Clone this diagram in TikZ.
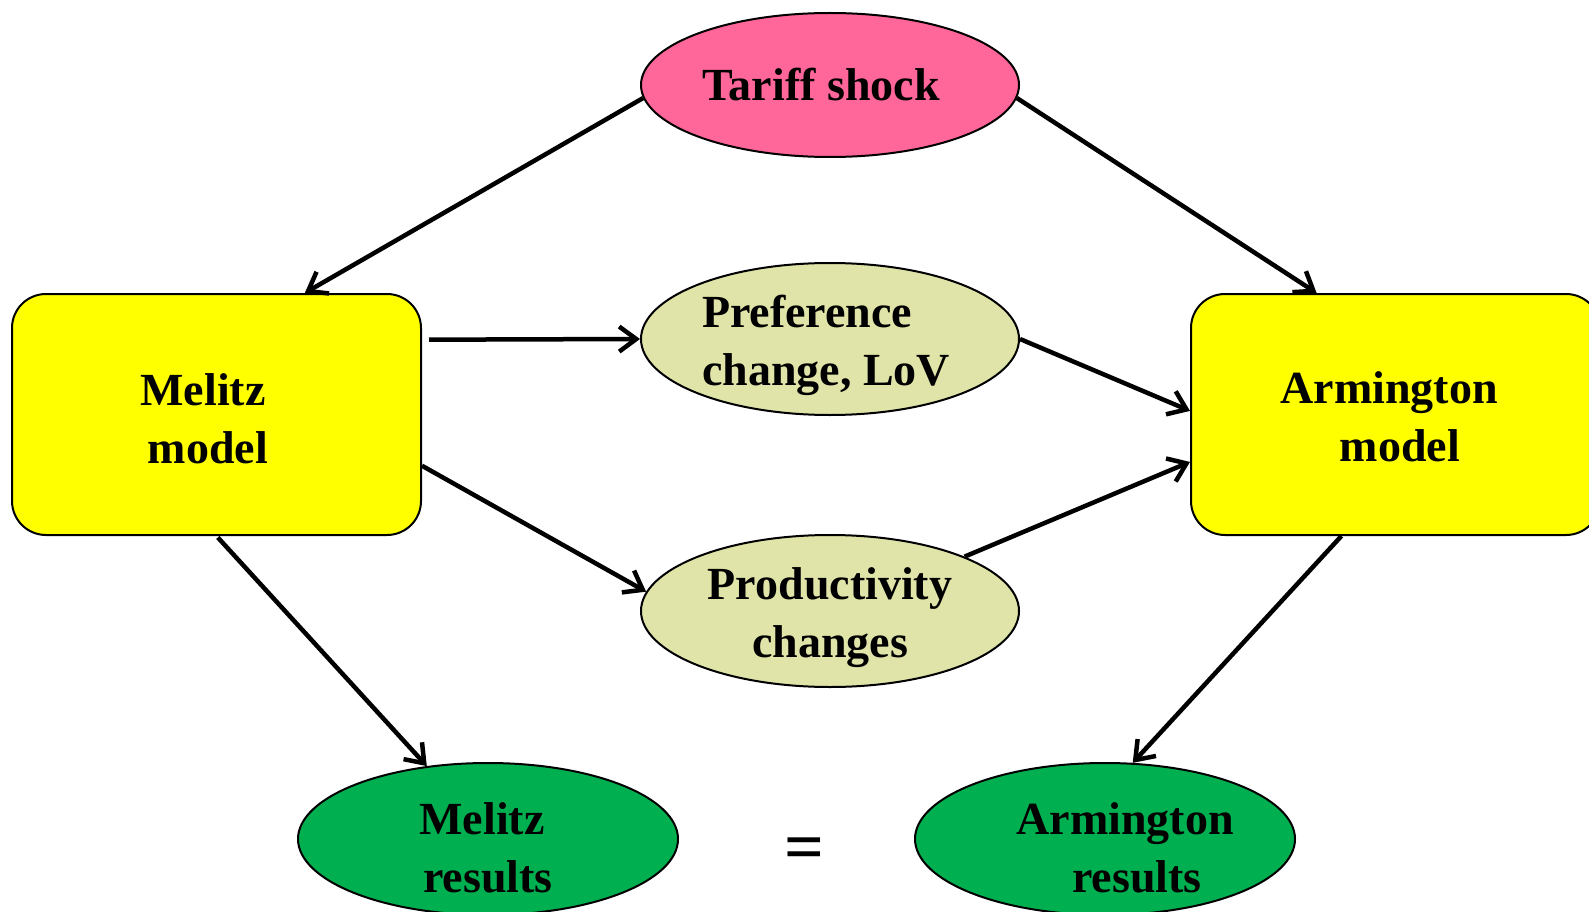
\documentclass[tikz,border=0pt]{standalone}
\usepackage{fontspec}
\setmainfont{Liberation Serif}
\usetikzlibrary{arrows.meta,shapes.geometric}
\definecolor{shockpink}{RGB}{255,102,153}
\definecolor{modelyellow}{RGB}{255,255,0}
\definecolor{channel}{RGB}{225,228,168}
\definecolor{resultgreen}{RGB}{0,176,80}
\begin{document}
\begin{tikzpicture}[x=1pt,y=-1pt,
  modelbox/.style={draw=black,line width=2pt,fill=modelyellow,rounded corners=34pt,
    minimum width=409pt,minimum height=241pt,inner sep=0pt},
  oval/.style={ellipse,draw=black,line width=2pt,inner sep=0pt,
    minimum width=378pt,minimum height=152pt},
  lbl/.style={font=\fontsize{46}{58}\selectfont\bfseries,align=center,anchor=base,inner sep=0pt},
  link/.style={line width=4.5pt,-{Straight Barb[length=17pt,width=25pt]}}
]
\useasboundingbox (0,0) rectangle (1589,912);
\clip (0,0) rectangle (1589,912);

% shapes
\node[oval,fill=shockpink,minimum height=144pt] (tariff) at (830,85) {};
\node[modelbox] (melitz) at (216.5,414.5) {};
\node[modelbox] (arm) at (1395.5,414.5) {};
\node[oval,fill=channel] (pref) at (830,339) {};
\node[oval,fill=channel] (prod) at (830,611) {};
\node[oval,fill=resultgreen,minimum width=380pt] (mres) at (488,839) {};
\node[oval,fill=resultgreen,minimum width=380pt] (ares) at (1105,839) {};

% texts (anchored at the baseline of the last line)
\node[lbl] (tariff-text) at (821,101) {Tariff shock};
\node[lbl] (melitz-text) at (203,463) {Melitz\\\hspace*{10pt}model};
\node[lbl] (arm-text) at (1389,461) {Armington\\\hspace*{22pt}model};
\node[lbl,align=left] (pref-text) at (826,385) {Preference\\change, LoV};
\node[lbl] (prod-text) at (830,657) {Productivity\\changes};
\node[lbl] (mres-text) at (482,892) {Melitz\\\hspace*{12pt}results};
\node[lbl] (ares-text) at (1125,892) {Armington\\\hspace*{24pt}results};
\node[font=\fontsize{70}{74}\selectfont\bfseries,inner sep=0pt] (eq) at (804,854) {=};

% connectors
\draw[link] (tariff.184) -- (melitz.54.6);
\draw[link] (tariff.356.6) -- (arm.123.7);
\draw[link,shorten <=7pt] (melitz.20.26) -- (pref.west);
\draw[link] (melitz.346.9) -- (prod.174.4);
\draw[link] (pref.east) -- (arm.179.5);
\draw[link] (prod.22.2) -- (arm.193.07);
\draw[link,shorten <=2pt] (melitz.south) -- (mres.130);
\draw[link] (arm.246.8) -- (ares.70.5);
\end{tikzpicture}
\end{document}
